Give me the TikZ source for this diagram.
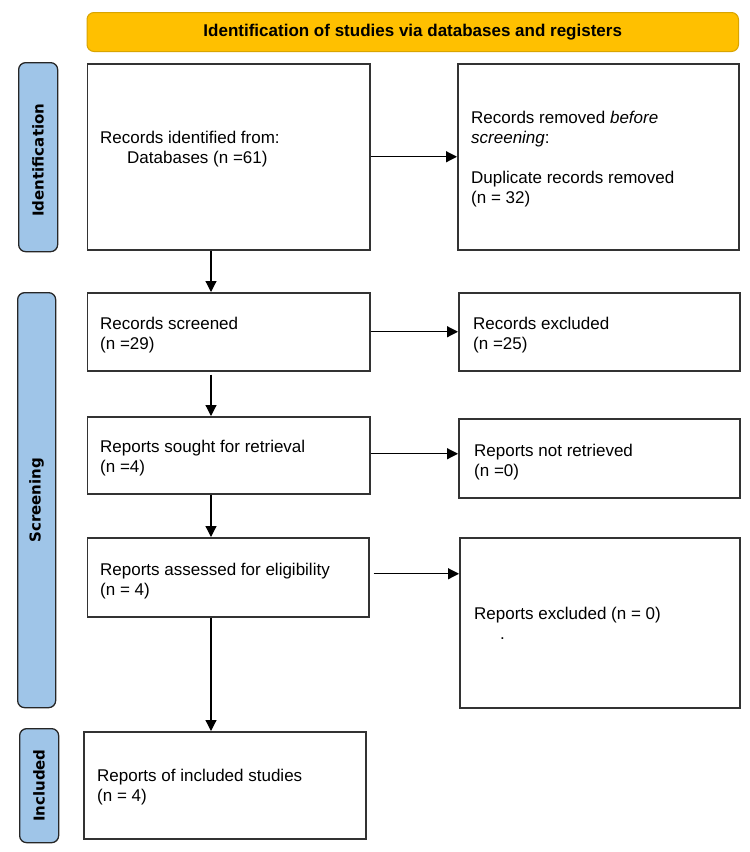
\documentclass[tikz,border=0pt]{standalone}
\usepackage{fontspec}
\setmainfont{Liberation Sans}
\newfontfamily\labelfont{DejaVu Sans}
\usetikzlibrary{arrows.meta}
\definecolor{bannerfill}{HTML}{FFC000}
\definecolor{bannerdraw}{HTML}{D9A400}
\definecolor{barfill}{HTML}{9FC5E8}
\definecolor{boxdraw}{HTML}{333333}
\begin{document}
\begin{tikzpicture}[x=1pt,y=-1pt,
  stepbox/.style={draw=boxdraw, line width=1.5pt, fill=white, inner sep=0pt, anchor=north west},
  sidebar/.style={draw=black!85, line width=1.3pt, fill=barfill, rounded corners=7pt, inner sep=0pt, anchor=north west},
  banner/.style={draw=bannerdraw, line width=1pt, fill=bannerfill, rounded corners=7pt, inner sep=0pt, anchor=north west, font=\fontsize{17}{20}\selectfont\bfseries},
  sidelabel/.style={rotate=90, font=\labelfont\bfseries\fontsize{15}{18}\selectfont, inner sep=0pt},
  boxtext/.style={anchor=base west, align=left, inner sep=0pt, font=\fontsize{17}{20}\selectfont},
  arr/.style={line width=1.2pt, -{Triangle[length=11pt,width=11pt]}}
]
\useasboundingbox (0,0) rectangle (750,852);
\fill[white] (0,0) rectangle (750,852);

% banner
\node[banner, minimum width=651.5pt, minimum height=39pt] (ban) at (86.5,12) {\raisebox{-2pt}{Identification of studies via databases and registers}};

% side bars
\node[sidebar, minimum width=39pt, minimum height=189pt] (idbar) at (18,62) {};
\node[sidebar, minimum width=38pt, minimum height=415pt] (scbar) at (17,292) {};
\node[sidebar, minimum width=39pt, minimum height=114pt] (inbar) at (19,728) {};
\node[sidelabel] (idlab) at ([yshift=-3pt]idbar.center) {Identification};
\node[sidelabel] (sclab) at (scbar.center) {Screening};
\node[sidelabel] (inlab) at (inbar.center) {Included};

% boxes
\node[stepbox, minimum width=282.5pt, minimum height=186pt] (b1) at (86.5,63) {};
\node[stepbox, minimum width=281pt, minimum height=186pt] (b2) at (457,63) {};
\node[stepbox, minimum width=282.5pt, minimum height=78pt] (b3) at (86.5,292) {};
\node[stepbox, minimum width=281pt, minimum height=78pt] (b4) at (458,292) {};
\node[stepbox, minimum width=282.5pt, minimum height=77pt] (b5) at (86.5,416) {};
\node[stepbox, minimum width=281pt, minimum height=79pt] (b6) at (458,418) {};
\node[stepbox, minimum width=281.5pt, minimum height=79pt] (b7) at (86.5,537) {};
\node[stepbox, minimum width=280pt, minimum height=170pt] (b8) at (459,537) {};
\node[stepbox, minimum width=282pt, minimum height=107pt] (b9) at (83,731) {};

% texts (base anchor = baseline of last line)
\node[boxtext] (t1) at (100,163) {Records identified from:\\\hspace*{27pt}Databases (n =61)};
\node[boxtext] (t2) at (471,203) {Records removed \textit{before}\\\textit{screening}:\\[20pt]Duplicate records removed\\(n = 32)};
\node[boxtext] (t3) at (100,349) {Records screened\\(n =29)};
\node[boxtext] (t4) at (473,349) {Records excluded\\(n =25)};
\node[boxtext] (t5) at (100,472) {Reports sought for retrieval\\(n =4)};
\node[boxtext] (t6) at (474,476) {Reports not retrieved\\(n =0)};
\node[boxtext] (t7) at (100,595) {Reports assessed for eligibility\\(n = 4)};
\node[boxtext] (t8) at (474,639) {Reports excluded (n = 0)\\\hspace*{26pt}.};
\node[boxtext] (t9) at (97,801) {Reports of included studies\\(n = 4)};

% connectors
\coordinate (col) at (211,0);
\draw[arr] (b1.east) -- (b1.east -| b2.west);
\draw[arr] (b3.east) -- (b3.east -| b4.west);
\draw[arr] ([yshift=1.5pt]b5.east) -- ([yshift=1.5pt]b5.east -| b6.west);
\draw[arr] ([xshift=4pt,yshift=3.5pt]b7.east) -- ([yshift=3.5pt]b7.east -| b8.west);
\draw[arr] (b1.south -| col) -- (b3.north -| col);
\draw[arr] ([yshift=-3pt]b3.south -| col) -- (b5.north -| col);
\draw[arr] (b5.south -| col) -- (b7.north -| col);
\draw[arr] (b7.south -| col) -- (b9.north -| col);
\end{tikzpicture}
\end{document}
